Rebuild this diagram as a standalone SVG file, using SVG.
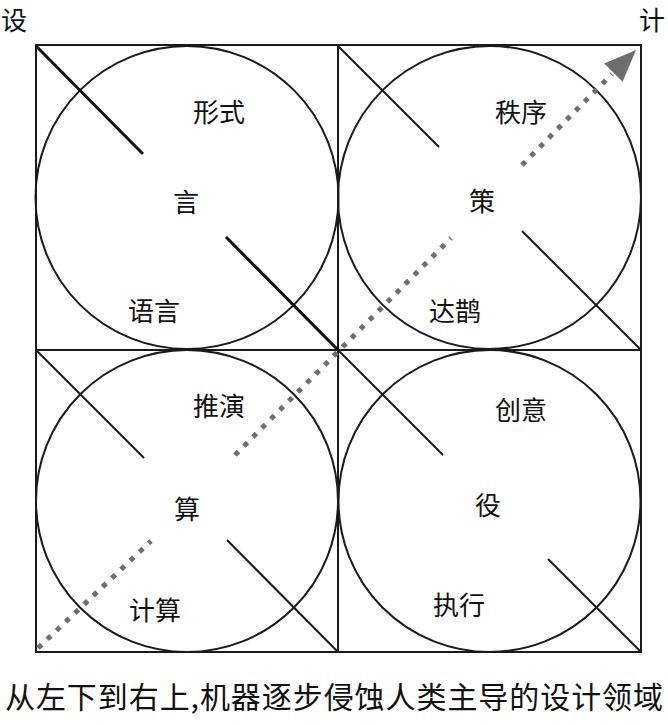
<svg xmlns="http://www.w3.org/2000/svg" width="668" height="725" viewBox="0 0 668 725">
<style>
.frame{fill:none;stroke:#1a1a1a;stroke-width:2}
.circ{fill:none;stroke:#1a1a1a;stroke-width:2}
.diag{stroke:#1a1a1a;stroke-width:2;stroke-linecap:butt}
.diag-b{stroke:#111;stroke-width:3;stroke-linecap:butt}
.lbl{font-family:"Noto Sans CJK SC","Noto Sans CJK JP",sans-serif;font-size:26px;fill:#111;text-anchor:middle;dominant-baseline:central}
.cap{font-family:"Noto Sans CJK SC","Noto Sans CJK JP",sans-serif;font-size:30px;fill:#111}
.dots{stroke:#6e6e6e;stroke-width:5;stroke-dasharray:5 7.7;fill:none}
</style>
<rect width="668" height="725" fill="#fff"/>
<g id="frame">
<rect class="frame" x="36" y="45" width="605" height="607"/>
<line class="frame" x1="338" y1="45" x2="338" y2="652"/>
<line class="frame" x1="36" y1="350" x2="641" y2="350"/>
</g>
<g id="q-yan">
<circle class="circ" cx="187" cy="197.5" r="151.5"/>
<line class="diag-b" x1="36" y1="46" x2="143" y2="154"/>
<line class="diag-b" x1="226" y1="237" x2="338" y2="350"/>
<text class="lbl" x="219" y="110">形式</text>
<text class="lbl" x="186" y="200">言</text>
<text class="lbl" x="154" y="309">语言</text>
</g>
<g id="q-ce">
<circle class="circ" cx="489.5" cy="197.5" r="151.5"/>
<line class="diag" x1="338" y1="46" x2="439" y2="147"/>
<line class="diag" x1="522" y1="231" x2="641" y2="350"/>
<text class="lbl" x="521" y="110">秩序</text>
<text class="lbl" x="482" y="199">策</text>
<text class="lbl" x="455" y="309">达鹊</text>
</g>
<g id="q-suan">
<circle class="circ" cx="187" cy="501" r="151"/>
<line class="diag" x1="36" y1="350" x2="144" y2="458"/>
<line class="diag" x1="227" y1="540" x2="338" y2="652"/>
<text class="lbl" x="219" y="404">推演</text>
<text class="lbl" x="187" y="507">算</text>
<text class="lbl" x="155" y="608">计算</text>
</g>
<g id="q-yi">
<circle class="circ" cx="489.5" cy="501" r="151"/>
<line class="diag" x1="338" y1="350" x2="443" y2="455"/>
<line class="diag" x1="548" y1="559" x2="641" y2="652"/>
<text class="lbl" x="521" y="408">创意</text>
<text class="lbl" x="488" y="503">役</text>
<text class="lbl" x="459" y="603">执行</text>
</g>
<g id="connectors">
<line class="dots" x1="38" y1="648" x2="151" y2="541"/>
<line class="dots" x1="235" y1="455" x2="451" y2="238"/>
<line class="dots" x1="522" y1="165" x2="612" y2="74"/>
<polygon points="636,50 622.6,81.8 604.2,63.4" fill="#6e6e6e"/>
</g>
<g id="labels">
<text class="lbl" x="14" y="18">设</text>
<text class="lbl" x="652" y="18">计</text>
<text class="cap" x="5" y="708" textLength="658" lengthAdjust="spacing">从左下到右上,机器逐步侵蚀人类主导的设计领域</text>
</g>
</svg>
